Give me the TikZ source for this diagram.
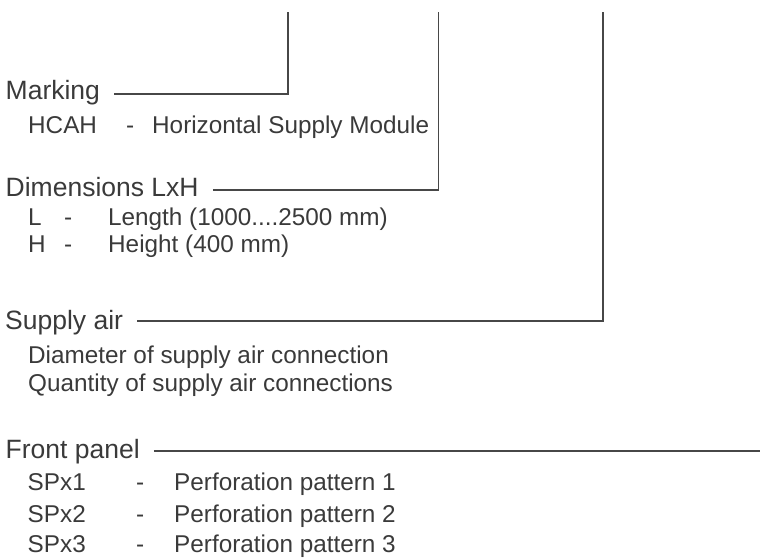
\documentclass[tikz,border=0pt]{standalone}
\usepackage{fontspec}
\setmainfont{Liberation Sans}
\definecolor{txt}{HTML}{3A3A3A}
\definecolor{ln}{HTML}{474747}
\begin{document}
\begin{tikzpicture}[x=1pt,y=-1pt,
  lbl/.style={anchor=base west, inner sep=0pt, text=txt},
  head/.style={lbl, font=\fontsize{26.5}{30}\selectfont},
  sub/.style={lbl, font=\fontsize{24.3}{28}\selectfont},
  conn/.style={draw=ln, line width=1.9pt, line join=miter}]
\useasboundingbox (0,0) rectangle (760,559);
% top free ends
\coordinate (t1) at (287.7,12.3);
\coordinate (t2) at (438.5,12.3);
\coordinate (t3) at (602.7,12.3);
\coordinate (fe) at (760,450.7);
% Marking
\node[head] (mark) at (5.5,99.3) {Marking};
\node[sub] (hcah) at (28,133.3) {HCAH};
\node[sub] (hcahd) at (126,133.3) {-};
\node[sub] (hcaht) at (152,133.3) {Horizontal Supply Module};
% Dimensions
\node[head] (dim) at (5.5,196.7) {Dimensions LxH};
\node[sub] (dl) at (28,225) {L};
\node[sub] (dld) at (64,225) {-};
\node[sub] (dlt) at (108,225) {Length (1000....2500 mm)};
\node[sub] (dh) at (28,252.7) {H};
\node[sub] (dhd) at (64,252.7) {-};
\node[sub] (dht) at (108,252.7) {Height (400 mm)};
% Supply air
\node[head] (sup) at (5,329.3) {Supply air};
\node[sub] (diam) at (28,363.3) {Diameter of supply air connection};
\node[sub] (qty) at (28,391) {Quantity of supply air connections};
% Front panel
\node[head] (front) at (5.5,458.3) {Front panel};
\node[sub] (sp1) at (27.5,490) {SPx1};
\node[sub] (sp1d) at (136,490) {-};
\node[sub] (sp1t) at (174,490) {Perforation pattern 1};
\node[sub] (sp2) at (27.5,522) {SPx2};
\node[sub] (sp2d) at (136,522) {-};
\node[sub] (sp2t) at (174,522) {Perforation pattern 2};
\node[sub] (sp3) at (27.5,552.5) {SPx3};
\node[sub] (sp3d) at (136,552.5) {-};
\node[sub] (sp3t) at (174,552.5) {Perforation pattern 3};
% connectors
\draw[conn] ([shift={(14,-5.5)}]mark.base east) -| (t1);
\draw[conn] ([shift={(14,-6.7)}]dim.base east) -| (t2);
\draw[conn] ([shift={(14,-8.6)}]sup.base east) -| (t3);
\draw[conn] ([shift={(14,-7.6)}]front.base east) -- (fe);
\end{tikzpicture}
\end{document}
